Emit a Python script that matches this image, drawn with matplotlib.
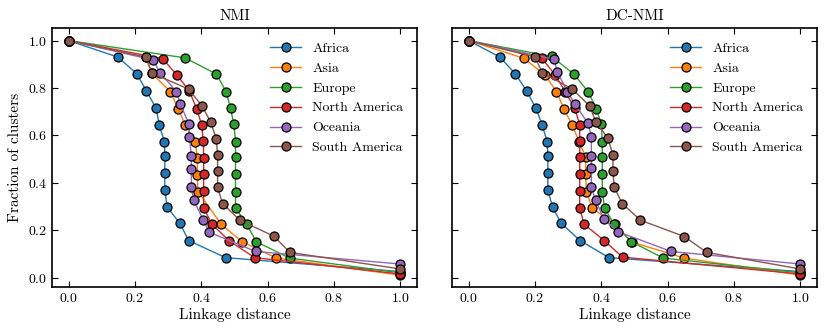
import matplotlib
matplotlib.use('Agg')
import matplotlib.pyplot as plt

plt.rcParams['font.family'] = 'serif'
plt.rcParams['font.serif'] = ['cmr10']
plt.rcParams['mathtext.fontset'] = 'cm'
plt.rcParams['axes.formatter.use_mathtext'] = True

regions = ['Africa', 'Asia', 'Europe', 'North America', 'Oceania', 'South America']
colors = ['#1f77b4', '#ff7f0e', '#2ca02c', '#d62728', '#9467bd', '#8c564b']

# NMI panel
africa_nmi_x = [0, .149, .206, .234, .264, .273, .289, .290, .290, .290, .297, .335, .362, .473, 1.0]
africa_nmi_y = [1, .930, .859, .788, .714, .644, .572, .512, .442, .370, .298, .229, .156, .084, .025]
asia_nmi_x = [0, .232, .250, .307, .330, .352, .382, .388, .388, .390, .460, .522, .626, 1.0]
asia_nmi_y = [1, .930, .862, .785, .713, .643, .572, .505, .434, .363, .224, .152, .082, .010]
europe_nmi_x = [0, .351, .445, .475, .488, .498, .503, .503, .503, .503, .503, .537, .566, .666, 1.0]
europe_nmi_y = [1, .927, .859, .784, .715, .647, .574, .508, .437, .362, .294, .224, .151, .082, .020]
namerica_nmi_x = [0, .283, .327, .363, .386, .401, .406, .407, .407, .407, .407, .432, .483, .561, 1.0]
namerica_nmi_y = [1, .924, .854, .789, .713, .644, .575, .506, .436, .365, .294, .225, .156, .084, .015]
oceania_nmi_x = [0, .255, .275, .325, .337, .362, .364, .370, .370, .370, .377, .406, .424, .564, 1.0]
oceania_nmi_y = [1, .918, .865, .785, .731, .650, .595, .513, .460, .380, .326, .243, .191, .110, .057]
samerica_nmi_x = [0, .233, .252, .362, .402, .428, .445, .449, .449, .449, .464, .516, .619, .667, 1.0]
samerica_nmi_y = [1, .930, .862, .795, .724, .657, .586, .518, .450, .381, .312, .242, .174, .106, .036]

# DC-NMI panel
africa_dc_x = [0, .095, .141, .175, .203, .222, .237, .239, .239, .239, .253, .279, .336, .423, 1.0]
africa_dc_y = [1, .930, .859, .788, .714, .644, .572, .512, .442, .370, .298, .229, .156, .084, .025]
asia_dc_x = [0, .167, .230, .265, .287, .312, .333, .353, .353, .355, .373, .440, .492, .650, 1.0]
asia_dc_y = [1, .925, .855, .785, .713, .644, .574, .508, .435, .363, .293, .224, .150, .082, .010]
europe_dc_x = [0, .250, .317, .360, .385, .400, .403, .403, .403, .403, .410, .439, .491, .587, 1.0]
europe_dc_y = [1, .933, .859, .785, .713, .647, .573, .508, .436, .362, .293, .224, .151, .082, .020]
namerica_dc_x = [0, .221, .261, .291, .320, .335, .335, .335, .335, .335, .335, .348, .409, .464, 1.0]
namerica_dc_y = [1, .925, .855, .785, .715, .644, .575, .508, .436, .365, .294, .225, .156, .086, .015]
oceania_dc_x = [0, .258, .267, .298, .320, .360, .370, .370, .370, .370, .383, .408, .451, .611, 1.0]
oceania_dc_y = [1, .921, .868, .785, .733, .651, .595, .511, .462, .380, .327, .245, .193, .110, .057]
samerica_dc_x = [0, .200, .222, .313, .365, .383, .420, .435, .435, .439, .463, .518, .650, .718, 1.0]
samerica_dc_y = [1, .932, .864, .795, .724, .658, .588, .518, .450, .381, .312, .242, .173, .106, .036]

panels = [
    ('NMI', [(africa_nmi_x, africa_nmi_y), (asia_nmi_x, asia_nmi_y), (europe_nmi_x, europe_nmi_y),
             (namerica_nmi_x, namerica_nmi_y), (oceania_nmi_x, oceania_nmi_y), (samerica_nmi_x, samerica_nmi_y)]),
    ('DC-NMI', [(africa_dc_x, africa_dc_y), (asia_dc_x, asia_dc_y), (europe_dc_x, europe_dc_y),
                (namerica_dc_x, namerica_dc_y), (oceania_dc_x, oceania_dc_y), (samerica_dc_x, samerica_dc_y)]),
]

fig = plt.figure(figsize=(8.31, 3.34), dpi=100)
ax_left = fig.add_axes([0.0626, 0.1407, 0.4392, 0.7754])
ax_right = fig.add_axes([0.5439, 0.1407, 0.4392, 0.7754])

for ax, (title, series) in zip([ax_left, ax_right], panels):
    for (xs, ys), name, c in zip(series, regions, colors):
        ax.plot(xs, ys, '-o', color=c, lw=1, ms=6.5, mec='black', mew=0.9, label=name)
    ax.set_xlim(-0.05, 1.05)
    ax.set_ylim(-0.04, 1.053)
    ax.set_xticks([0, 0.2, 0.4, 0.6, 0.8, 1.0])
    ax.set_yticks([0, 0.2, 0.4, 0.6, 0.8, 1.0])
    ax.tick_params(direction='in', top=True, right=True, labelsize=10, length=4)
    ax.set_title(title, fontsize=11)
    ax.set_xlabel('Linkage distance', fontsize=11, labelpad=2)
    ax.legend(loc='upper right', frameon=False, fontsize=10, handlelength=2.2,
              labelspacing=0.52, borderaxespad=0.6)
    for s in ax.spines.values():
        s.set_linewidth(1.2)

ax_left.set_ylabel('Fraction of clusters', fontsize=11)
ax_right.set_yticklabels([])

fig.savefig('out.png', dpi=100)
